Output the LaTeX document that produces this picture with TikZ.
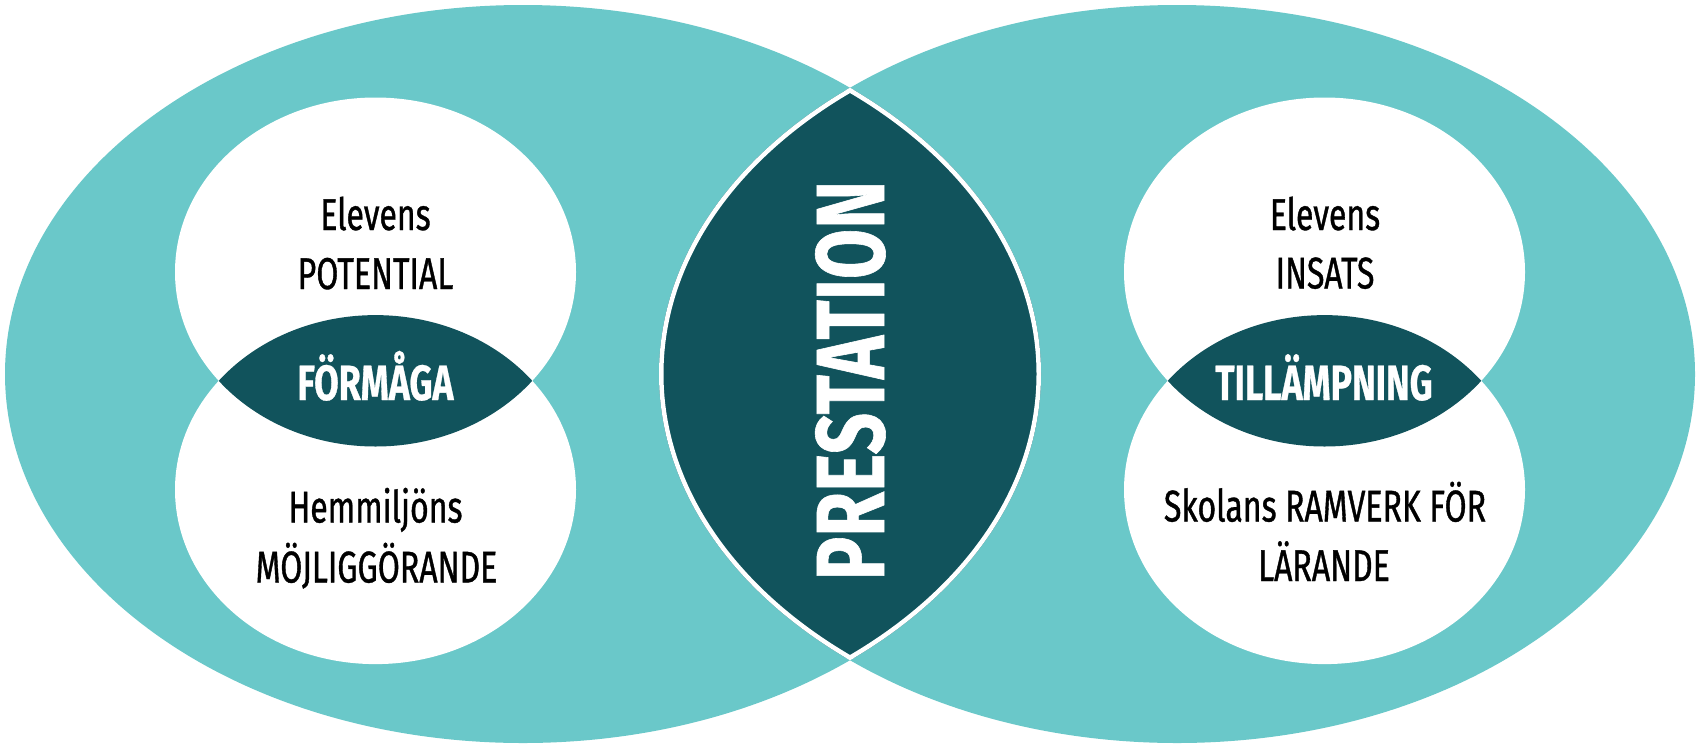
\documentclass[tikz,border=0pt]{standalone}
\usepackage{fontspec}
\newfontfamily\oswf{Fira Sans}[FakeStretch=0.72, FakeBold=0.8]
\newfontfamily\oswb{Fira Sans}[FakeStretch=0.72, FakeBold=0.6]
\definecolor{lightteal}{HTML}{6AC8C9}
\definecolor{darkteal}{HTML}{11535C}
\begin{document}
\begin{tikzpicture}[x=1pt,y=-1pt,
  lbl/.style={font={\oswf\fontsize{44.5}{59}\selectfont}, text=black, anchor=base, inner sep=0pt},
  blbl/.style={font={\oswb\bfseries\fontsize{49.5}{59}\selectfont}, text=white, anchor=base, inner sep=0pt},
  plbl/.style={font={\oswb\bfseries\fontsize{97}{100}\selectfont}, text=white, anchor=base, inner sep=0pt, rotate=90, xscale=1.04}]
\useasboundingbox (0,0) rectangle (1699,745);
\fill[white] (0,0) rectangle (1699,745);
\def\ellL{(523,374) ellipse [x radius=518, y radius=369]}
\def\ellR{(1177,374) ellipse [x radius=518, y radius=369]}
\def\cLT{(375.5,272) ellipse [x radius=200.5, y radius=174.5]}
\def\cLB{(375.5,489.6) ellipse [x radius=200.5, y radius=174.5]}
\def\cRT{(1324.5,272) ellipse [x radius=200.5, y radius=174.5]}
\def\cRB{(1324.5,489.6) ellipse [x radius=200.5, y radius=174.5]}
% big ellipses
\fill[lightteal] \ellL;
\fill[lightteal] \ellR;
% central lens
\begin{scope}
  \clip \ellL;
  \clip \ellR;
  \fill[darkteal] (0,0) rectangle (1699,745);
  \draw[white, line width=9pt] \ellL;
  \draw[white, line width=9pt] \ellR;
\end{scope}
% small circles
\fill[white] \cLT;
\fill[white] \cLB;
\fill[white] \cRT;
\fill[white] \cRB;
\begin{scope}
  \clip \cLT;
  \fill[darkteal] \cLB;
\end{scope}
\begin{scope}
  \clip \cRT;
  \fill[darkteal] \cRB;
\end{scope}
% texts
\node[lbl] (l1) at (375.5,230) {Elevens};
\node[lbl] (l2) at (375.5,289) {POTENTIAL};
\node[blbl] (l3) at (375.5,400) {FÖRMÅGA};
\node[lbl] (l4) at (375.5,522.5) {Hemmiljöns};
\node[lbl] (l5) at (376.5,582.5) {MÖJLIGGÖRANDE};
\node[lbl] (r1) at (1325,230) {Elevens};
\node[lbl] (r2) at (1325,288.5) {INSATS};
\node[blbl] (r3) at (1324,400) {TILLÄMPNING};
\node[lbl] (r4) at (1325,521.5) {Skolans RAMVERK FÖR};
\node[lbl] (r5) at (1324,581) {LÄRANDE};
\node[plbl] (p) at (884,380.5) {PRESTATION};
\end{tikzpicture}
\end{document}
